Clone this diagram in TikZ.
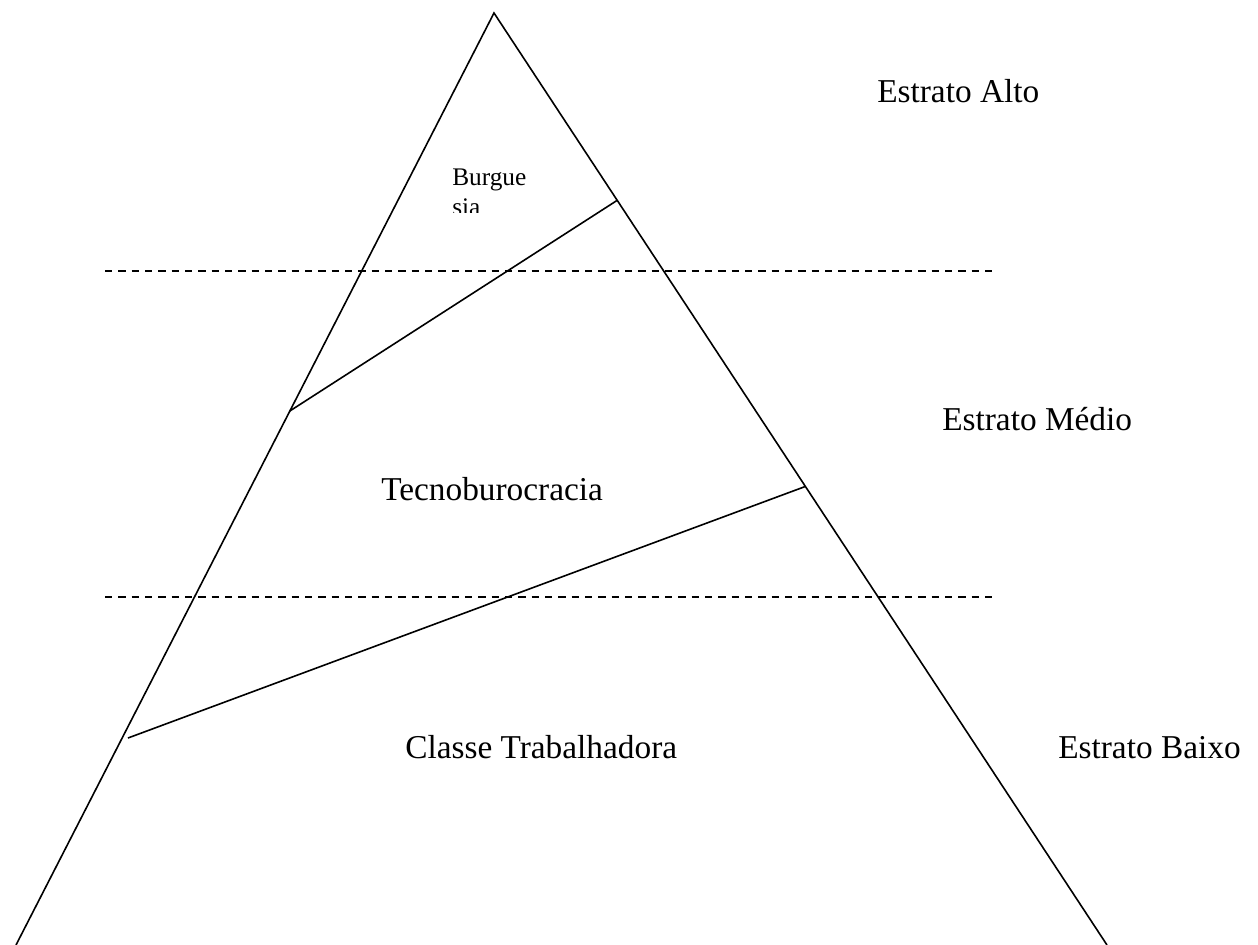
\documentclass[tikz,border=0pt]{standalone}
\usepackage{fontspec}
\setmainfont{Liberation Serif}
\usetikzlibrary{calc}
\usetikzlibrary{positioning}
\tikzset{
	lado/.style={draw=black, line width=1.2pt},
	divisa/.style={draw=black, line width=1.2pt},
	estrato/.style={draw=black, line width=1.1pt, dash pattern=on 5.5pt off 4.5pt},
	rotulo/.style={
		anchor=base west,
		inner sep=0pt,
		font=\fontsize{25}{30}\selectfont},
	rotulopeq/.style={
		anchor=base west,
		inner sep=0pt,
		align=left,
		font=\fontsize{19}{22.5}\selectfont},
}

\begin{document}
\begin{tikzpicture}
		[x=0.75pt, y=-0.75pt]
		\useasboundingbox (0,0) rectangle (1258,945);
		% piramide
		\coordinate (topo) at (494,13);
		\coordinate (baseesq) at (16,945);
		\coordinate (basedir) at (1107,945);
		\draw[lado] (baseesq) -- (topo) -- (basedir);
		% divisoes de classe
		\coordinate (burgesq) at ($(topo)!0.427!(baseesq)$);
		\coordinate (burgdir) at ($(topo)!0.201!(basedir)$);
		\coordinate (tecesq) at (128,738);
		\coordinate (tecdir) at ($(topo)!0.508!(basedir)$);
		\draw[divisa] (burgesq) -- (burgdir);
		\draw[divisa] (tecesq) -- (tecdir);
		% estratos
		\coordinate (alto1) at (105,271);
		\coordinate (alto2) at (992,271);
		\coordinate (baixo1) at (105,597);
		\coordinate (baixo2) at (992,597);
		\draw[estrato] (alto1) -- (alto2);
		\draw[estrato] (baixo1) -- (baixo2);
		% textos
		\begin{scope}
			\clip (400,140) rectangle (600,213);
			\node[rotulopeq] (burguesia) at (452,216) {Burgue\\sia};
		\end{scope}
		\node[rotulo] (tecno) at (381,500) {Tecnoburocracia};
		\node[rotulo] (classe) at (405,758) {Classe Trabalhadora};
		\node[rotulo] (ealto) at (877,103) {Estrato Alto};
		\node[rotulo] (emedio) at (942,430) {Estrato Médio};
		\node[rotulo] (ebaixo) at (1058,758) {Estrato Baixo};
		\end{tikzpicture}
\end{document}
